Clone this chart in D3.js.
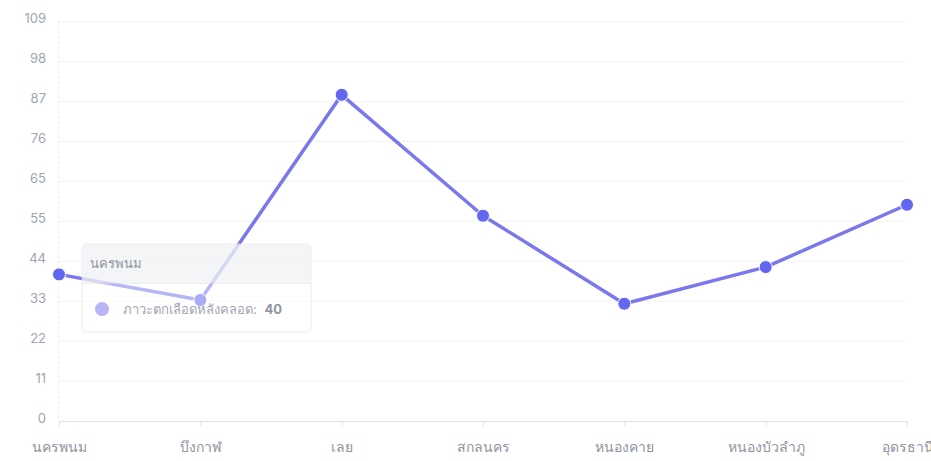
<!DOCTYPE html>
<html><head><meta charset="utf-8">
<script src="https://cdn.jsdelivr.net/npm/d3@7"></script>
<style>
body{margin:0;background:#fff;}
svg{font-family:Inter,"Noto Sans","DejaVu Sans",sans-serif;}
</style></head>
<body><svg id="c" width="931" height="461"></svg>
<script>
const categories = ["นครพนม","บึงกาฬ","เลย","สกลนคร","หนองคาย","หนองบัวลำภู","อุดรธานี"];
const seriesName = "ภาวะตกเลือดหลังคลอด";
const values = [40,33,89,56,32,42,59];
const yMax = 109;
const yTickCount = 10;
const tooltipIndex = 0;

(function(){
const svg = d3.select("#c");
const mLeft = 59, mRight = 907, mTop = 21.5, mBottom = 421;
const x = d3.scalePoint().domain(categories).range([mLeft,mRight]);
const y = d3.scaleLinear().domain([0,yMax]).range([mBottom,mTop]);
const ticks = d3.range(yTickCount+1).map(i=>yMax*i/yTickCount);

svg.append("g").selectAll("line").data(ticks.slice(1)).join("line")
  .attr("x1",mLeft).attr("x2",mRight).attr("y1",d=>y(d)).attr("y2",d=>y(d))
  .attr("stroke","#f3f3f5").attr("stroke-width",1);
svg.append("line").attr("x1",mLeft-0.5).attr("x2",mLeft-0.5).attr("y1",mTop).attr("y2",mBottom)
  .attr("stroke","#e4e4ea").attr("stroke-dasharray","2,3");

svg.append("g").selectAll("text").data(ticks).join("text")
  .attr("x",46).attr("y",d=>y(d)-2).attr("text-anchor","end").attr("dominant-baseline","middle")
  .attr("fill","#a0a5b0").attr("font-size",13).text(d=>Math.round(d));

const xa = svg.append("g").attr("transform",`translate(0,${mBottom})`)
  .call(d3.axisBottom(x).tickSize(6).tickSizeOuter(0).tickPadding(15));
xa.select(".domain").attr("stroke","#e0e0e0");
xa.selectAll(".tick line").attr("stroke","#e0e0e0");
xa.selectAll(".tick text").attr("fill","#8f94a0").attr("font-size",14).attr("font-family","inherit");

const line = d3.line().x((d,i)=>x(categories[i])).y(d=>y(d));
svg.append("path").datum(values).attr("d",line).attr("fill","none")
  .attr("stroke","#7b78ee").attr("stroke-width",3.5).attr("stroke-linejoin","round");
svg.append("g").selectAll("circle").data(values).join("circle")
  .attr("cx",(d,i)=>x(categories[i])).attr("cy",d=>y(d)).attr("r",6.5)
  .attr("fill","#6366f1").attr("stroke","#fff").attr("stroke-width",1);

const tx = x(categories[tooltipIndex]) + 23, ty = 244;
const tw = 229, th = 88;
const tt = svg.append("g").attr("transform",`translate(${tx},${ty})`);
tt.append("rect").attr("width",tw).attr("height",th).attr("rx",5)
  .attr("fill","rgba(255,255,255,0.45)").attr("stroke","rgba(225,228,235,0.7)");
tt.append("path").attr("d",`M5,0.5 H${tw-5} Q${tw-0.5},0.5 ${tw-0.5},5 V39 H0.5 V5 Q0.5,0.5 5,0.5Z`)
  .attr("fill","rgba(236,239,241,0.6)");
tt.append("line").attr("x1",0.5).attr("x2",tw-0.5).attr("y1",39.5).attr("y2",39.5).attr("stroke","rgba(221,221,221,0.5)");
tt.append("text").attr("x",8).attr("y",24).attr("fill","#8f94a0").attr("font-size",13).text(categories[tooltipIndex]);
tt.append("circle").attr("cx",20).attr("cy",65).attr("r",7).attr("fill","#b8b6f5");
const tl = tt.append("text").attr("x",41).attr("y",70).attr("font-size",13).attr("fill","#a0a5b0");
tl.append("tspan").text(seriesName+": ");
tl.append("tspan").attr("font-weight","bold").attr("fill","#8f94a0").attr("dx",4).text(values[tooltipIndex]);
})();
</script></body></html>
